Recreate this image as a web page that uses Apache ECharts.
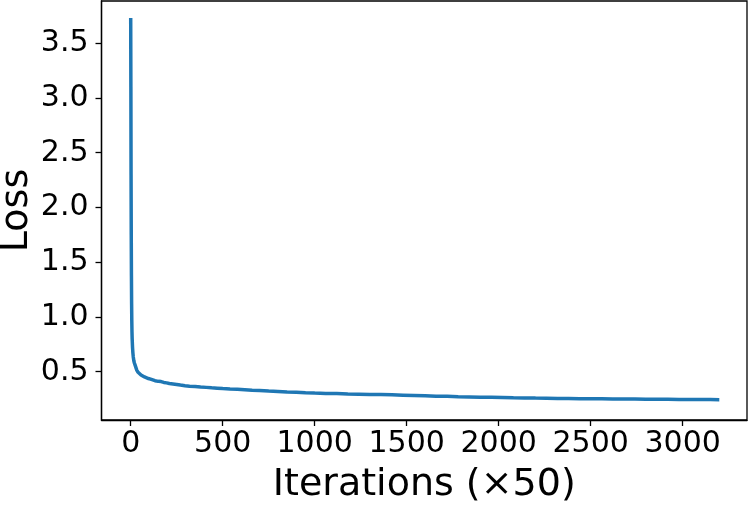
<!DOCTYPE html>
<html>
<head>
<meta charset="utf-8">
<script src="https://cdn.jsdelivr.net/npm/echarts@6/dist/echarts.min.js"></script>
<style>
html,body{margin:0;padding:0;background:#fff;}
#c{width:748px;height:509px;}
</style>
</head>
<body>
<div id="c"></div>
<script>
const iterations = [0,1,2,3,4,5,6,7,8,10,12,14,17,20,24,28,33,40,48,56,65,75,85,96,108,120,132,141,150,165,180,195,210,219,230,250,270,295,320,350,380,410,440,470,500,540,580,620,660,700,750,800,850,900,950,1000,1060,1120,1180,1240,1300,1360,1420,1480,1540,1600,1660,1720,1780,1840,1900,1960,2020,2080,2140,2200,2260,2320,2380,2440,2500,2560,2620,2680,2740,2800,2860,2920,2980,3040,3100,3150,3199];
const loss = [3.73,3.10,2.30,1.75,1.38,1.12,0.96,0.86,0.80,0.72,0.67,0.635,0.60,0.58,0.56,0.54,0.515,0.495,0.48,0.47,0.462,0.452,0.447,0.438,0.432,0.425,0.418,0.430,0.412,0.410,0.402,0.398,0.392,0.410,0.388,0.384,0.378,0.372,0.368,0.364,0.360,0.357,0.353,0.350,0.346,0.342,0.339,0.335,0.331,0.328,0.323,0.319,0.315,0.312,0.308,0.305,0.302,0.300,0.297,0.295,0.293,0.291,0.289,0.286,0.283,0.280,0.277,0.275,0.272,0.270,0.267,0.266,0.264,0.262,0.261,0.259,0.258,0.256,0.255,0.254,0.253,0.252,0.251,0.251,0.250,0.249,0.249,0.248,0.247,0.247,0.246,0.246,0.245];
const xTicks = [0,500,1000,1500,2000,2500,3000];
const yTicks = [0.5,1.0,1.5,2.0,2.5,3.0,3.5];
const xTitle = 'Iterations (×50)';
const yTitle = 'Loss';

const FONT = 'DejaVu Sans';
const chart = echarts.init(document.getElementById('c'), null, {renderer:'canvas'});
const data = iterations.map((x,i)=>[x,loss[i]]);
chart.setOption({
  animation:false,
  backgroundColor:'#fff',
  grid:{left:101.5,right:1,top:1,bottom:89,containLabel:false,outerBoundsMode:'none',show:true,borderColor:'#000',borderWidth:1.3,backgroundColor:'transparent'},
  xAxis:{
    type:'value',min:-158.7,max:3349.5,
    name:xTitle,nameLocation:'middle',nameGap:46,nameMoveOverlap:false,
    nameTextStyle:{fontFamily:FONT,fontSize:38,color:'#000'},
    axisLine:{show:true,onZero:false,lineStyle:{color:'#000',width:1.3}},
    axisTick:{show:true,length:6,lineStyle:{color:'#000',width:1.3},customValues:xTicks},
    axisLabel:{fontFamily:FONT,fontSize:30,color:'#000',margin:9,customValues:xTicks,formatter:v=>String(v)},
    splitLine:{show:false}
  },
  yAxis:{
    type:'value',min:0.059,max:3.886,
    name:yTitle,nameLocation:'middle',nameGap:65,nameRotate:90,nameMoveOverlap:false,
    nameTextStyle:{fontFamily:FONT,fontSize:38,color:'#000'},
    axisLine:{show:true,onZero:false,lineStyle:{color:'#000',width:1.3}},
    axisTick:{show:true,length:6,lineStyle:{color:'#000',width:1.3},customValues:yTicks},
    axisLabel:{fontFamily:FONT,fontSize:30,color:'#000',margin:13,customValues:yTicks,formatter:v=>v.toFixed(1)},
    splitLine:{show:false}
  },
  series:[{
    type:'line',data:data,showSymbol:false,symbol:'none',
    lineStyle:{color:'#1f77b4',width:3.5},
    smooth:false
  }]
});
</script>
</body>
</html>
